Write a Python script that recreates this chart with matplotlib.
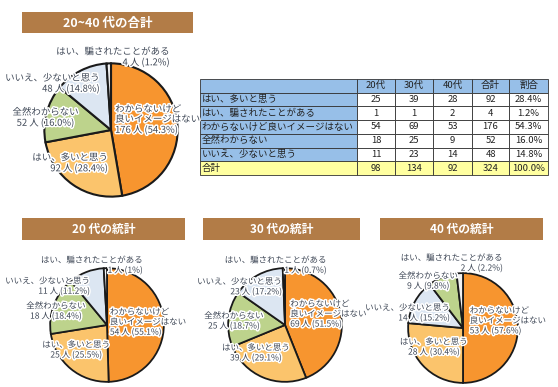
import matplotlib
matplotlib.use("Agg")
import matplotlib.pyplot as plt
import matplotlib.patheffects as pe
from matplotlib.patches import Rectangle

plt.rcParams['font.family'] = ['Noto Sans CJK JP', 'DejaVu Sans']

W, H = 558, 387

# --- data ---
row_labels = ["はい、多いと思う", "はい、騙されたことがある",
              "わからないけど良いイメージはない", "全然わからない", "いいえ、少ないと思う"]
col_labels = ["20代", "30代", "40代", "合計", "割合"]
vals_20 = [25, 1, 54, 18, 11]
vals_30 = [39, 1, 69, 25, 23]
vals_40 = [28, 2, 53, 9, 14]
vals_all = [92, 4, 176, 52, 48]
share_all = ["28.4%", "1.2%", "54.3%", "16.0%", "14.8%"]
# totals row exactly as printed in the source table
totals = ["98", "134", "92", "324", "100.0%"]
pct_all = ["28.4%", "1.2%", "54.3%", "16.0%", "14.8%"]
pct_20 = ["25.5%", "1%", "55.1%", "18.4%", "11.2%"]
pct_30 = ["29.1%", "0.7%", "51.5%", "18.7%", "17.2%"]
pct_40 = ["30.4%", "2.2%", "57.6%", "9.8%", "15.2%"]

pie_names = ["はい、多いと思う", "はい、騙されたことがある",
             "わからないけど\n良いイメージはない", "全然わからない", "いいえ、少ないと思う"]
colors = ["#FBC46C", "#F2F2F2", "#F7952F", "#BDD38C", "#DCE6F2"]
TEXT = "#3E4756"

# slice order clockwise from 12 o'clock
order_a = [2, 0, 3, 4, 1]
order_b = [2, 0, 4, 3, 1]

fig = plt.figure(figsize=(W / 100, H / 100), dpi=100)
bg = fig.add_axes([0, 0, 1, 1])
bg.set_xlim(0, W)
bg.set_ylim(H, 0)
bg.axis("off")


def title_box(x0, x1, y0, y1, text, size):
    bg.add_patch(Rectangle((x0, y0), x1 - x0, y1 - y0, facecolor="#B27C47",
                           edgecolor="none"))
    bg.text((x0 + x1) / 2, (y0 + y1) / 2 + 0.5, text, color="white", fontsize=size,
            fontweight="bold", ha="center", va="center")


def draw_pie(cx, cy, r, vals, pcts, order, label_pos, fsize, lw):
    ax = fig.add_axes([(cx - r) / W, 1 - (cy + r) / H, 2 * r / W, 2 * r / H])
    ax.pie([vals[i] for i in order], colors=[colors[i] for i in order],
           startangle=90, counterclock=False, radius=0.98,
           wedgeprops=dict(edgecolor="#1A1A1A", linewidth=lw))
    ax.set_xlim(-1, 1)
    ax.set_ylim(-1, 1)
    ax.axis("off")
    for i in range(5):
        dx, dy, ha = label_pos[i]
        txt = f"{pie_names[i]}\n{vals[i]} 人 ({pcts[i]})"
        ax.text(dx, dy, txt, fontsize=fsize, color=TEXT, ha=ha, va="center",
                multialignment=ha, linespacing=1.15, clip_on=False,
                path_effects=[pe.withStroke(linewidth=2.2, foreground="white")])


# --- top pie ---
title_box(22, 193, 12, 33, "20~40 代の合計", 9)
pos_all = [(-0.04, -0.49, "right"), (0.87, 1.07, "right"), (0.06, 0.15, "left"),
           (-0.96, 0.18, "center"), (-0.16, 0.68, "right")]
draw_pie(111, 130, 68, vals_all, pct_all, order_a, pos_all, 6.8, 1.5)

# --- bottom pies ---
title_box(22, 185, 218, 240, "20 代の統計", 8.5)
pos_20 = [(-0.53, -0.43, "center"), (0.62, 1.03, "right"), (0.05, 0.05, "left"),
          (-0.88, 0.24, "center"), (-0.29, 0.67, "right")]
draw_pie(107, 325, 58, vals_20, pct_20, order_a, pos_20, 6.1, 1.3)

title_box(203, 360, 218, 240, "30 代の統計", 8.5)
pos_30 = [(-0.5, -0.48, "center"), (0.72, 1.03, "right"), (0.09, 0.19, "left"),
          (-0.88, 0.07, "center"), (-0.05, 0.66, "right")]
draw_pie(285, 325, 58, vals_30, pct_30, order_a, pos_30, 6.1, 1.3)

title_box(380, 543, 218, 240, "40 代の統計", 8.5)
pos_40 = [(-0.52, -0.34, "center"), (0.71, 1.16, "right"), (0.12, 0.13, "left"),
          (-0.62, 0.84, "center"), (-0.23, 0.27, "right")]
draw_pie(463, 328, 56, vals_40, pct_40, order_b, pos_40, 6.1, 1.3)

# --- table ---
col_x = [200, 357, 395, 433, 472, 509, 548]
row_y = [79 + 13.7 * k for k in range(8)]
BLUE = "#97BFE8"
YELLOW = "#FFFFA0"
table_rows = []
for i in range(5):
    table_rows.append([row_labels[i], str(vals_20[i]), str(vals_30[i]), str(vals_40[i]),
                       str(vals_all[i]), share_all[i]])
table_rows.append(["合計"] + totals)

for r in range(7):
    for c in range(6):
        x0, x1 = col_x[c], col_x[c + 1]
        y0, y1 = row_y[r], row_y[r + 1]
        if r == 6:
            fc = YELLOW
        elif r == 0 or c == 0:
            fc = BLUE
        else:
            fc = "white"
        bg.add_patch(Rectangle((x0, y0), x1 - x0, y1 - y0, facecolor=fc,
                               edgecolor="#333333", linewidth=0.6))
        if r == 0:
            if c > 0:
                bg.text((x0 + x1) / 2, (y0 + y1) / 2, col_labels[c - 1], fontsize=6.8,
                        color="#222222", ha="center", va="center")
        else:
            s = table_rows[r - 1][c]
            if c == 0:
                bg.text(x0 + 1.5, (y0 + y1) / 2, s, fontsize=6.8, color="#222222",
                        ha="left", va="center")
            else:
                bg.text((x0 + x1) / 2, (y0 + y1) / 2, s, fontsize=6.8, color="#222222",
                        ha="center", va="center")

fig.savefig("out.png", dpi=100)
